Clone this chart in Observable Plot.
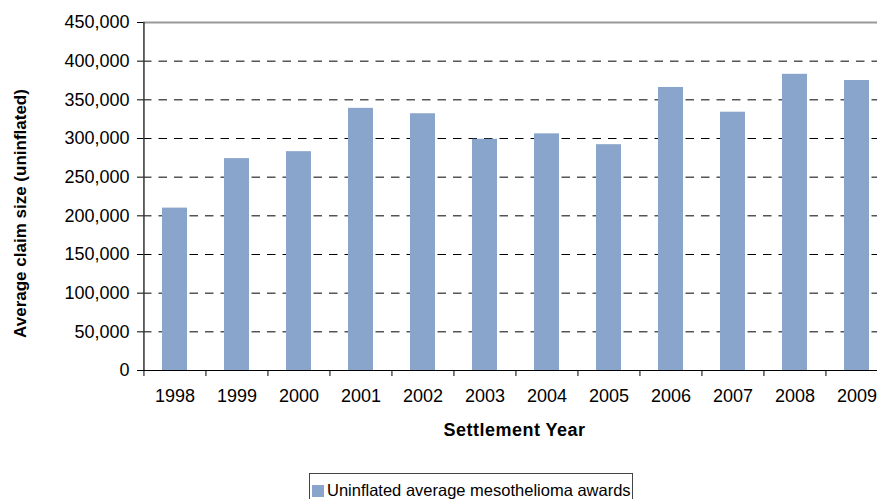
<!DOCTYPE html>
<html><head><meta charset="utf-8">
<script src="https://cdn.jsdelivr.net/npm/d3@7"></script>
<script src="https://cdn.jsdelivr.net/npm/@observablehq/plot@0.6"></script>
<style>
body{margin:0;background:#fff;font-family:"Liberation Sans",Arial,sans-serif;}
#wrap{position:relative;width:877px;height:499px;overflow:hidden;background:#fff;}
.legend{position:absolute;left:309px;top:473px;width:324px;height:40px;border:1px solid #444;box-sizing:border-box;padding:6px 0 0 2px;font-size:16.5px;line-height:20px;color:#000;white-space:nowrap;}
.sw{display:inline-block;width:12px;height:12px;background:#8aa5cb;margin-right:3px;position:relative;top:1px;}
</style></head>
<body><div id="wrap"></div>
<script>
const years = ["1998","1999","2000","2001","2002","2003","2004","2005","2006","2007","2008","2009"];
const awards = [210000, 274000, 283000, 339000, 332000, 299000, 306000, 292000, 366000, 334000, 383000, 375000];
const yTicks = [0, 50000, 100000, 150000, 200000, 250000, 300000, 350000, 400000, 450000];
const seriesName = "Uninflated average mesothelioma awards";
const xTitle = "Settlement Year";
const yTitle = "Average claim size (uninflated)";

const data = years.map((y, i) => ({year: y, value: awards[i]}));
const yMax = yTicks[yTicks.length - 1];
const halfStep = (888.5 - 143) / years.length / 2;

const chart = Plot.plot({
  width: 877, height: 462,
  marginTop: 22, marginBottom: 92, marginLeft: 143, marginRight: 0,
  style: {fontFamily: "'Liberation Sans', Arial, sans-serif", fontSize: "18px", color: "#000", background: "#fff", overflow: "visible"},
  x: {type: "band", domain: years, range: [143, 888.5], paddingInner: 0.6, paddingOuter: 0.3},
  y: {domain: [0, yMax]},
  marks: [
    Plot.ruleY(yTicks.filter(d => d > 0 && d < yMax), {stroke: "#000", strokeDasharray: "8.5,7"}),
    Plot.ruleY([yMax], {stroke: "#999", strokeWidth: 2}),
    Plot.barY(data, {x: "year", y: "value", fill: "#8aa5cb"}),
    Plot.ruleY([0], {stroke: "#000", strokeWidth: 1.2}),
    Plot.ruleX([years[0]], {dx: -halfStep, y1: 0, y2: yMax, stroke: "#333", strokeWidth: 1.5}),
    Plot.ruleX(years, {dx: -halfStep, y1: 0, y2: 0, insetBottom: -6, stroke: "#000"}),
    Plot.axisY({ticks: yTicks, tickSize: 6, tickPadding: 8, tickFormat: d3.format(","), label: null, fontSize: 18}),
    Plot.axisX({tickSize: 0, tickPadding: 19, label: null, fontSize: 18}),
    Plot.text([xTitle], {frameAnchor: "bottom", lineAnchor: "middle", dy: 60, dx: 4, fontWeight: "bold", fontSize: 18}),
    Plot.text([yTitle], {frameAnchor: "left", textAnchor: "middle", rotate: -90, dx: -123, dy: 17, fontWeight: "bold", fontSize: 17})
  ]
});
d3.select(chart).selectAll("text").filter(function() { return this.textContent === xTitle; }).style("letter-spacing", "0.5px");
const wrap = document.getElementById("wrap");
wrap.appendChild(chart);
const leg = document.createElement("div");
leg.className = "legend";
leg.innerHTML = '<span class="sw"></span>' + seriesName;
wrap.appendChild(leg);
</script>
</body></html>
